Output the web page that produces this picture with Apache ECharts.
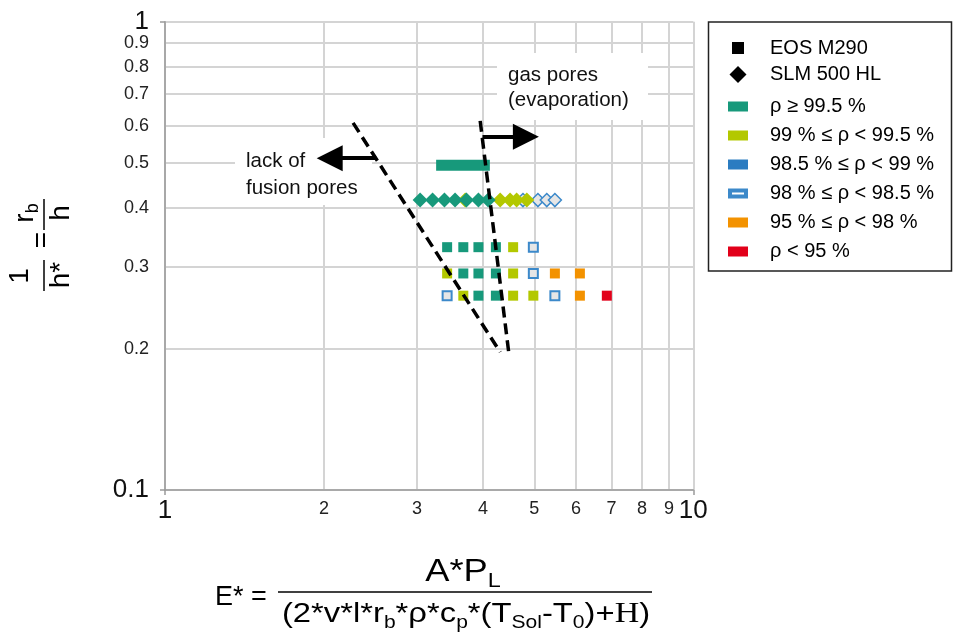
<!DOCTYPE html>
<html><head><meta charset="utf-8">
<script src="https://cdn.jsdelivr.net/npm/echarts@6/dist/echarts.min.js"></script>
<style>html,body{margin:0;padding:0;background:#fff}#c{width:956px;height:636px}</style>
</head><body><div id="c"></div>
<script>
// ---------------- data ----------------
const xTicks = [1, 2, 3, 4, 5, 6, 7, 8, 9, 10];
const yTicks = [0.1, 0.2, 0.3, 0.4, 0.5, 0.6, 0.7, 0.8, 0.9, 1];
const xMajor = [1, 10];
const yMajor = [0.1, 1];
const machines = ['EOS M290', 'SLM 500 HL'];
const categories = ['ρ ≥ 99.5 %', '99 % ≤ ρ < 99.5 %', '98.5 % ≤ ρ < 99 %', '98 % ≤ ρ < 98.5 %', '95 % ≤ ρ < 98 %', 'ρ < 95 %'];

// EOS M290 (squares): [E*, 1/h*]
const eosTeal   = [[3.42,0.33],[3.67,0.33],[3.92,0.33],[4.23,0.33],[3.67,0.29],[3.92,0.29],[4.23,0.29],[3.92,0.26],[4.23,0.26]];
const eosYG     = [[4.56,0.33],[3.42,0.29],[4.56,0.29],[3.67,0.26],[4.56,0.26],[4.98,0.26]];
const eosBlue   = [];
const eosOpen   = [[4.98,0.33],[4.98,0.29],[3.42,0.26],[5.47,0.26]];
const eosOrange = [[5.47,0.29],[6.10,0.29],[6.10,0.26]];
const eosRed    = [[6.86,0.26]];
const eosTealBand = [[3.26,0.494],[4.12,0.494]];

// SLM 500 HL (diamonds)
const slmTeal   = [[3.04,0.416],[3.21,0.416],[3.38,0.416],[3.54,0.416],[3.72,0.416],[3.92,0.416],[4.09,0.416]];
const slmYG     = [[3.70,0.416],[4.31,0.416],[4.50,0.416],[4.63,0.416],[4.84,0.416]];
const slmBlue   = [];
const slmOpen   = [[4.76,0.416],[5.08,0.416],[5.28,0.416],[5.47,0.416]];
const slmOrange = [];
const slmRed    = [];

// process-window boundaries and arrows
const lofLine  = [[2.27,0.608],[4.31,0.197]];
const gasLine  = [[3.95,0.614],[4.48,0.194]];
const lofArrow = [[2.51,0.511],[2.05,0.511]];
const gasArrow = [[3.99,0.568],[4.82,0.568]];

// ---------------- styles ----------------
const FONT = "'Liberation Sans', Arial, sans-serif";
const COL = ['#17997b', '#b3c800', '#2b7cc1', '#3c89ca', '#f39200', '#e2001a'];
const OPEN_FILL = '#e6e6e6';
const AXIS_GREY = '#9a9a9a';
const eosData = [eosTeal, eosYG, eosBlue, eosOpen, eosOrange, eosRed];
const slmData = [slmTeal, slmYG, slmBlue, slmOpen, slmOrange, slmRed];

function catStyle(i, bw) {
  if (i === 3) return {color: OPEN_FILL, borderColor: COL[3], borderWidth: bw, opacity: 1};
  return {color: COL[i], opacity: 1};
}

const series = [];
series.push({name: machines[0], type: 'scatter', data: [], symbol: 'rect', itemStyle: {color: '#000', opacity: 1}});
series.push({name: machines[1], type: 'scatter', data: [], symbol: 'diamond', itemStyle: {color: '#000', opacity: 1}});
[3, 2, 4, 5, 1, 0].forEach(i => {
  series.push({name: categories[i], type: 'scatter', data: slmData[i], symbol: 'diamond',
    symbolSize: i === 3 ? 13 : 15, itemStyle: catStyle(i, 1.5), z: 3});
});
categories.forEach((c, i) => {
  series.push({name: c, type: 'scatter', data: eosData[i], symbol: 'rect',
    symbolSize: i === 3 ? 9 : 10, itemStyle: catStyle(i, 2), z: 3});
});
series.push({name: 'band', type: 'line', data: eosTealBand, symbol: 'none',
  lineStyle: {color: COL[0], width: 11, cap: 'butt'}, z: 3});
series.push({name: 'lof', type: 'line', data: lofLine, symbol: 'none',
  lineStyle: {color: '#000', width: 3.5, type: [11, 6]}, z: 5,
  markLine: {silent: true, symbol: ['none', 'triangle'], symbolSize: 26, label: {show: false},
    lineStyle: {color: '#000', width: 4, type: 'solid'},
    data: [[{coord: lofArrow[0]}, {coord: lofArrow[1]}], [{coord: gasArrow[0]}, {coord: gasArrow[1]}]]}});
series.push({name: 'gas', type: 'line', data: gasLine, symbol: 'none',
  lineStyle: {color: '#000', width: 3.5, type: [11, 6]}, z: 5});

const smallLabel = {fontSize: 18, color: '#222', fontFamily: FONT};
const bigLabel = {fontSize: 26, color: '#111', fontFamily: FONT};
const ringIcon = 'path://M0,0h20v10h-20z M4,4v2h12v-2z';
const legText = (pad) => ({fontSize: 20, color: '#000', fontFamily: FONT, lineHeight: 20, padding: [0, 0, 0, pad]});

const sub = {
  n: {fontSize: 28, fontFamily: FONT, color: '#000', lineHeight: 36, verticalAlign: 'middle'},
  s: {fontSize: 18, fontFamily: FONT, color: '#000', lineHeight: 18, verticalAlign: 'bottom'},
  h: {fontSize: 29, fontFamily: "'Liberation Serif', 'Times New Roman', serif", color: '#000', lineHeight: 36, verticalAlign: 'middle'}
};
const subNum = {
  n: {fontSize: 31, fontFamily: FONT, color: '#000', lineHeight: 38, verticalAlign: 'middle'},
  s: {fontSize: 20, fontFamily: FONT, color: '#000', lineHeight: 20, verticalAlign: 'bottom'}
};
const subY = {
  n: {fontSize: 28, fontFamily: FONT, color: '#000', lineHeight: 34, verticalAlign: 'middle'},
  s: {fontSize: 18, fontFamily: FONT, color: '#000', lineHeight: 18, verticalAlign: 'bottom'}
};

const xMinor = xTicks.filter(v => xMajor.indexOf(v) < 0);
const yMinor = yTicks.filter(v => yMajor.indexOf(v) < 0);

const option = {
  animation: false,
  backgroundColor: '#fff',
  textStyle: {fontFamily: FONT},
  grid: {left: 165, top: 21.7, width: 528.3, height: 468.3, containLabel: false},
  xAxis: [{
    type: 'log', logBase: 10, min: 1, max: 10,
    axisLine: {show: true, onZero: false, lineStyle: {color: AXIS_GREY, width: 1.5}},
    axisTick: {show: false, customValues: xTicks},
    axisLabel: Object.assign({customValues: xMinor, margin: 10, hideOverlap: false}, smallLabel),
    splitLine: {show: true, lineStyle: {color: '#d4d4d4', width: 2}}
  }, {
    type: 'log', logBase: 10, min: 1, max: 10, position: 'bottom',
    axisLine: {show: false}, splitLine: {show: false},
    axisLabel: Object.assign({customValues: xMajor, margin: 8, showMinLabel: true, showMaxLabel: true}, bigLabel),
    axisTick: {show: true, customValues: xMajor, length: 5, lineStyle: {color: AXIS_GREY, width: 1.5}}
  }],
  yAxis: [{
    type: 'log', logBase: 10, min: 0.1, max: 1,
    axisLine: {show: true, onZero: false, lineStyle: {color: AXIS_GREY, width: 1.5}},
    axisTick: {show: false, customValues: yTicks},
    axisLabel: Object.assign({customValues: yMinor, margin: 16, hideOverlap: false}, smallLabel),
    splitLine: {show: true, lineStyle: {color: '#d4d4d4', width: 2}}
  }, {
    type: 'log', logBase: 10, min: 0.1, max: 1, position: 'left',
    axisLine: {show: false}, splitLine: {show: false},
    axisLabel: Object.assign({customValues: yMajor, margin: 16, showMinLabel: true, showMaxLabel: true}, bigLabel),
    axisTick: {show: true, customValues: yMajor, length: 5, lineStyle: {color: AXIS_GREY, width: 1.5}}
  }],
  legend: [{
    orient: 'vertical', left: 732, top: 38, padding: 0, selectedMode: false,
    itemWidth: 12, itemHeight: 12, textStyle: legText(21),
    data: [{name: machines[0], icon: 'rect', itemStyle: {color: '#000', borderWidth: 0, opacity: 1}}]
  }, {
    orient: 'vertical', left: 729.5, top: 64.5, padding: 0, selectedMode: false,
    itemWidth: 17, itemHeight: 17, textStyle: legText(18.5),
    data: [{name: machines[1], icon: 'diamond', itemStyle: {color: '#000', borderWidth: 0, opacity: 1}}]
  }, {
    orient: 'vertical', left: 728, top: 96.5, padding: 0, selectedMode: false,
    itemWidth: 20, itemHeight: 10, itemGap: 9, textStyle: legText(17),
    data: categories.map((c, i) => ({name: c, icon: i === 3 ? ringIcon : 'rect',
      itemStyle: {color: COL[i], borderWidth: 0, opacity: 1}}))
  }],
  graphic: [
    {type: 'rect', z: 1, shape: {x: 708.5, y: 22, width: 243, height: 249},
      style: {fill: 'none', stroke: '#222', lineWidth: 1.5}},
    {type: 'rect', z: 1, shape: {x: 235, y: 138, width: 137, height: 67}, style: {fill: '#fff'}},
    {type: 'text', z: 6, x: 246, y: 175, style: {text: 'lack of\nfusion pores', fontSize: 20.5, lineHeight: 26.5,
      fontFamily: FONT, fill: '#111', verticalAlign: 'middle'}},
    {type: 'rect', z: 1, shape: {x: 497, y: 53, width: 151, height: 67}, style: {fill: '#fff'}},
    {type: 'text', z: 6, x: 508, y: 87.5, style: {text: 'gas pores\n(evaporation)', fontSize: 20.5, lineHeight: 25,
      fontFamily: FONT, fill: '#111', verticalAlign: 'middle'}},
    // x axis title (formula)
    {type: 'text', x: 215, y: 598, style: {text: 'E* =', fontSize: 27, fontFamily: FONT, fill: '#000', verticalAlign: 'middle'}},
    {type: 'text', x: 463, y: 572, scaleX: 1.17, style: {text: '{n|A*P}{s|L}', rich: subNum, align: 'center', verticalAlign: 'middle'}},
    {type: 'line', shape: {x1: 278, y1: 592, x2: 652, y2: 592}, style: {stroke: '#000', lineWidth: 1.5}},
    {type: 'text', x: 466, y: 614, scaleX: 1.17, style: {text: '{n|(2*v*l*r}{s|b}{n|*ρ*c}{s|p}{n|*(T}{s|Sol}{n|-T}{s|0}{n|)+}{h|H}{n|)}',
      rich: sub, align: 'center', verticalAlign: 'middle'}},
    // y axis title (rotated fraction)
    {type: 'group', x: 44, y: 245, rotation: Math.PI / 2, children: [
      {type: 'text', x: -31, y: -24, style: {text: '1', fontSize: 28, fontFamily: FONT, fill: '#000', align: 'center', verticalAlign: 'middle'}},
      {type: 'line', shape: {x1: -46, y1: 0, x2: -15, y2: 0}, style: {stroke: '#000', lineWidth: 1.5}},
      {type: 'text', x: -30, y: 17, style: {text: 'h*', fontSize: 28, fontFamily: FONT, fill: '#000', align: 'center', verticalAlign: 'middle'}},
      {type: 'text', x: 5, y: -2, style: {text: '=', fontSize: 28, fontFamily: FONT, fill: '#000', align: 'center', verticalAlign: 'middle'}},
      {type: 'text', x: 32, y: -19, style: {text: '{n|r}{s|b}', rich: subY, align: 'center', verticalAlign: 'middle'}},
      {type: 'line', shape: {x1: 15, y1: 0, x2: 46, y2: 0}, style: {stroke: '#000', lineWidth: 1.5}},
      {type: 'text', x: 32, y: 17, style: {text: 'h', fontSize: 28, fontFamily: FONT, fill: '#000', align: 'center', verticalAlign: 'middle'}}
    ]}
  ],
  series: series
};
const chart = echarts.init(document.getElementById('c'));
chart.setOption(option);
</script>
</body></html>
